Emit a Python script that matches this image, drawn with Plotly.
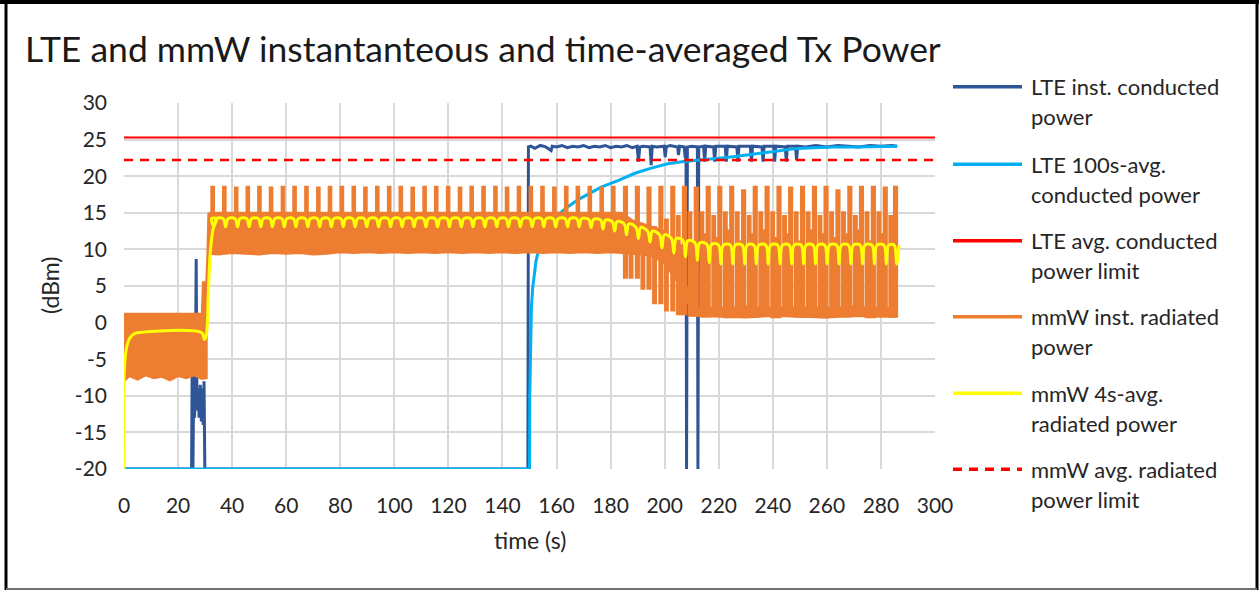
import plotly.graph_objects as go

# ---------------- data ----------------
# LTE instantaneous conducted power (dBm)
lte_inst_t = [0, 25.0, 25.2, 25.5, 25.8, 26.1, 26.4, 26.7, 27.0, 27.4, 27.8, 28.2, 28.6, 29.0, 29.3,
              29.6, 29.9, 30.2, 149.4, 149.6, 150.5, 152, 154, 156, 158, 158.4, 160, 162, 164, 166,
              168, 170, 172, 174, 176, 178, 180, 182, 184, 186, 188, 189.8, 190.3, 190.8, 192, 194.6,
              195.0, 195.4, 197, 199.8, 200.2, 200.6, 202, 204.8, 205.1, 205.5, 207.2, 207.6, 207.9,
              208.1, 208.4, 210, 212.1, 212.3, 212.6, 214.4, 214.8, 215.2, 218.1, 218.5, 218.9,
              222.4, 222.8, 223.2, 226.7, 227.1, 227.5, 231.7, 232.1, 232.5, 236.0, 236.4, 236.8,
              240.3, 240.7, 241.1, 244.6, 245.0, 245.4, 248.4, 248.8, 249.2, 252, 256, 260, 264,
              268, 272, 276, 280, 284, 286]
lte_inst_p = [-20, -20, -7, -20, -7, -13, -9, 8.7, -12, -9, -13, -8.5, -13.5, -9, -14,
              -8, -20, -20, -20, 24.0, 24.1, 23.8, 24.2, 24.0, 23.5, 24.1, 24.0, 24.2, 23.9, 24.1,
              24.0, 24.2, 23.9, 24.1, 24.0, 24.2, 23.9, 24.1, 24.0, 24.2, 23.9, 24.1, 22.0, 24.0, 24.1, 24.0,
              21.5, 24.1, 24.0, 24.1, 22.6, 24.0, 24.2, 24.0, 22.9, 24.1, 24.0, 22.5, 24.0,
              -20, 24.0, 24.1, 24.0, -20, 24.0, 24.1, 22.0, 24.1, 24.0, 22.0, 24.1,
              24.1, 22.0, 24.1, 24.0, 22.0, 24.1, 24.1, 22.0, 24.1, 24.0, 22.0, 24.1,
              24.1, 22.0, 24.1, 24.0, 22.0, 24.1, 24.1, 22.2, 24.1, 24.0, 24.2, 24.0, 24.2,
              24.1, 24.0, 24.2, 24.1, 24.2, 24.1]

# LTE 100 s averaged conducted power (dBm)
lte_avg_t = [0, 150.0, 150.1, 150.3, 150.7, 151.2, 152.4, 154.2, 156.9, 160, 164.1, 168, 174, 176.5,
             182.7, 189, 195, 201.2, 207, 213.6, 221, 226, 232, 238.3, 244, 249.4, 255, 262, 270,
             278, 286]
lte_avg_p = [-20, -20, -10, -3, 2, 4.8, 8.4, 11.2, 13.0, 14.6, 15.8, 16.8, 18.0, 18.5,
             19.4, 20.4, 21.1, 21.7, 22.0, 22.2, 22.5, 22.7, 23.0, 23.3, 23.6, 23.8, 23.9, 24.0, 24.0,
             24.1, 24.1]

# limits (dBm)
lte_limit = 25.3
mmw_limit = 22.2
limit_t = [0, 300]

# mmW instantaneous radiated power: densely sampled band (envelopes)
band_a_t = [0, 2, 5, 8, 11, 14, 17, 20, 23, 26, 28.8, 29.2, 30.6]
band_a_hi = [1.2, 1.2, 1.1, 1.2, 1.2, 1.1, 1.2, 1.2, 1.2, 1.1, 1.2, 5.5, 5.5]
band_a_lo = [-8.0, -7.3, -7.8, -7.2, -7.6, -7.4, -7.9, -7.3, -7.6, -7.2, -7.7, -7.6, -7.6]

band_b_t = [31.4, 35, 40, 45, 50, 55, 60, 65, 70, 75, 80, 85, 90, 95, 100, 105, 110, 115, 120,
            125, 130, 135, 140, 145, 150, 155, 160, 165, 170, 175, 180, 184, 188, 192, 196, 200,
            204, 208, 212, 220, 230, 240, 250, 260, 270, 280, 285.5]
band_b_hi = [15.0, 15.0, 15.0, 15.0, 15.0, 15.0, 15.0, 15.0, 15.0, 15.0, 15.0, 15.0, 15.0, 15.0,
             15.0, 15.0, 15.0, 15.0, 15.0, 15.0, 15.0, 15.0, 15.0, 15.0, 15.0, 15.0, 15.0, 15.0,
             15.0, 15.0, 15.0, 15.0, 14.0, 13.5, 13.0, 12.5, 10.0, 5.0, 2.0, 2.0, 2.2, 2.0, 2.1,
             2.0, 2.2, 2.0, 2.0]
band_b_lo = [9.4, 9.3, 9.5, 9.4, 9.3, 9.5, 9.4, 9.5, 9.3, 9.4, 9.6, 9.5, 9.6, 9.5, 9.6, 9.5,
             9.6, 9.5, 9.6, 9.5, 9.6, 9.5, 9.6, 9.5, 9.6, 9.5, 9.6, 9.5, 9.6, 9.5, 9.6, 9.4,
             9.4, 9.3, 9.0, 8.0, 6.0, 3.0, 0.9, 0.8, 0.7, 0.9, 0.8, 0.7, 0.9, 0.8, 0.8]

# mmW instantaneous radiated power: burst peaks (time, peak, floor, duration)
burst_t = [32.5, 36.8, 41.2, 45.5, 49.8, 54.1, 58.5, 62.8, 67.2, 71.6, 75.9, 80.3, 84.7, 89.0,
           93.4, 97.8, 102.1, 106.5, 110.9, 115.2, 119.6, 124.0, 128.3, 132.7, 137.1, 141.4,
           145.8, 150.2, 154.5, 158.9, 163.3, 167.6, 172.0, 176.4, 180.7, 185.1, 189.5, 193.8,
           198.2, 202.6, 206.9, 211.3, 215.7, 220.0, 224.4, 228.8, 233.1, 237.5, 241.9, 246.2,
           250.6, 255.0, 259.3, 263.7, 268.1, 272.4, 276.8, 281.2, 285.0]
burst_peak = [18.5, 18.5, 18.4, 18.5, 18.5, 18.4, 18.5, 18.5, 18.5, 18.4, 18.5, 18.5,
              18.5, 18.4, 18.5, 18.5, 18.5, 18.4, 18.5, 18.5, 18.5, 18.4, 18.5, 18.5, 18.5, 18.4,
              18.5, 18.5, 18.5, 18.4, 18.5, 18.5, 18.5, 18.4, 18.5, 18.5, 18.5, 18.4, 18.5, 18.5,
              18.5, 18.4, 18.5, 18.5, 18.5, 18.0, 18.5, 18.5, 18.5, 18.4, 18.5, 18.5, 18.5, 18.0,
              18.5, 18.5, 18.5, 18.4, 18.5]
burst_floor = [14, 14, 14, 14, 14, 14, 14, 14, 14, 14, 14, 14, 14, 14, 14, 14, 14, 14,
               14, 14, 14, 14, 14, 14, 14, 14, 14, 14, 14, 14, 14, 14, 14, 14, 14, 6.0, 6.0, 4.5,
               2.5, 1.5, 1.0, 0.8, 0.7, 0.9, 0.6, 0.8, 0.7, 0.9, 0.6, 0.8, 0.7, 0.9, 0.6, 0.8, 0.7,
               0.9, 0.6, 0.8, 0.7]
burst_dur = [0.6] * 35 + [0.8] * 24
# secondary bursts after the power back-off (time, peak, floor)
burst2_t = [187.2, 191.6, 195.9, 200.3, 204.7, 209.0, 213.4, 217.8, 222.1, 226.5, 230.9, 235.2,
            239.6, 244.0, 248.3, 252.7, 257.1, 261.4, 265.8, 270.2, 274.5, 278.9, 283.3]
burst2_peak = [12.0, 12.5, 13.0, 14.0, 14.5, 15.0, 15.0, 14.5, 15.0, 15.0, 14.5, 15.0,
               15.0, 14.5, 15.0, 15.0, 14.5, 15.0, 15.0, 14.5, 15.0, 15.0, 14.5]
burst2_floor = [6.0, 4.5, 2.5, 1.5, 1.0, 0.8, 0.7, 0.9, 0.6, 0.8, 0.7, 0.9, 0.6, 0.8, 0.7,
                0.9, 0.6, 0.8, 0.7, 0.9, 0.6, 0.8, 0.7]
burst2_dur = [0.7] * 23
# short intermediate bursts in the backed-off region
burst3_t = [205.9, 210.3, 214.6, 219.0, 223.4, 227.7, 232.1, 236.5, 240.8, 245.2, 249.6,
            253.9, 258.3, 262.7, 267.0, 271.4, 275.8, 280.1, 284.2]
burst3_peak = [10.5, 11.0, 12.0, 11.5, 12.5, 11.0, 12.0, 12.5, 11.5, 12.0, 11.0, 12.5,
               12.0, 11.5, 12.0, 12.5, 11.0, 12.0, 11.5]
burst3_floor = [1.0, 0.8, 0.7, 0.9, 0.6, 0.8, 0.7, 0.9, 0.6, 0.8, 0.7, 0.9, 0.6, 0.8, 0.7,
                0.9, 0.6, 0.8, 0.7]
burst3_dur = [0.3] * 19
transition_t = [30.6, 31.0, 31.4]
transition_p = [5.5, 9.0, 15.0]

# mmW 4 s averaged radiated power
yel_lead_t = [0, 0, 0.4, 1.0, 2.0, 3.5, 5.0, 28.8, 29.7, 30.4, 31.2, 32.0, 33.1, 34.3]
yel_lead_p = [-20, -7.6, -5.0, -3.3, -2.2, -1.6, -1.4, -1.4, -2.3, -1.8, 4.0, 10.0, 13.0, 14.2]
# per-burst level of the 4 s average (top between bursts, dip at each burst)
yel_top = [14.2, 14.2, 14.2, 14.2, 14.2, 14.2, 14.2, 14.2, 14.2, 14.2, 14.2, 14.2,
           14.2, 14.2, 14.2, 14.2, 14.2, 14.2, 14.2, 14.2, 14.2, 14.2, 14.2, 14.2, 14.2, 14.2,
           14.2, 14.2, 14.2, 14.2, 14.2, 14.2, 14.1, 14.0, 13.8, 13.5, 13.0, 12.5, 12.0, 11.5,
           11.2, 10.9, 10.7, 10.6, 10.6, 10.6, 10.6, 10.6, 10.6, 10.6, 10.6, 10.6, 10.6, 10.6,
           10.6, 10.6, 10.6, 10.6, 10.6]
yel_dip = [13.1, 13.1, 13.1, 13.1, 13.1, 13.1, 13.1, 13.1, 13.1, 13.1, 13.1, 13.1,
           13.1, 13.1, 13.1, 13.1, 13.1, 13.1, 13.1, 13.1, 13.1, 13.1, 13.1, 13.1, 13.1, 13.1,
           13.1, 13.1, 13.1, 13.1, 13.1, 13.1, 13.0, 12.8, 12.5, 12.0, 11.5, 11.0, 10.2, 9.5,
           9.0, 8.5, 8.2, 8.0, 8.0, 8.0, 8.0, 8.0, 8.0, 8.0, 8.0, 8.0, 8.0, 8.0, 8.0, 8.0, 8.0,
           8.0, 8.0]

# axis ticks
x_ticks = list(range(0, 301, 20))
y_ticks = list(range(-20, 31, 5))
y_tick_text = [str(v) for v in y_ticks]

# ---------------- colours / layout geometry ----------------
C_LTE = "#2F5597"
C_LTE_AVG = "#00B0F0"
C_RED = "#FF0000"
C_MMW = "#ED7D31"
C_MMW_AVG = "#FFFF00"
GRID = "#D9D9D9"
TXT = "#262626"
FONT = "Lato"

W, H = 1259, 590
PX_L, PX_R, PX_T, PX_B = 124, 935, 103, 469


def px_x(p):
    return (p - PX_L) / (PX_R - PX_L)


def px_y(p):
    return (PX_B - p) / (PX_B - PX_T)


DIP_W = 0.9

fig = go.Figure()

# LTE instantaneous
fig.add_trace(go.Scatter(x=lte_inst_t, y=lte_inst_p, mode="lines",
                         line=dict(color=C_LTE, width=3), showlegend=False))
# LTE 100 s average
fig.add_trace(go.Scatter(x=lte_avg_t, y=lte_avg_p, mode="lines",
                         line=dict(color=C_LTE_AVG, width=3), showlegend=False))
# LTE limit
fig.add_trace(go.Scatter(x=limit_t, y=[lte_limit] * 2, mode="lines",
                         line=dict(color=C_RED, width=2), showlegend=False))

# mmW instantaneous: dense band polygons
poly_x = band_a_t + band_a_t[::-1] + [None] + band_b_t + band_b_t[::-1]
poly_y = band_a_hi + band_a_lo[::-1] + [None] + band_b_hi + band_b_lo[::-1]
fig.add_trace(go.Scatter(x=poly_x, y=poly_y, mode="lines", fill="toself", fillcolor=C_MMW,
                         line=dict(color=C_MMW, width=2), showlegend=False))
# mmW instantaneous: bursts
bx, by = list(transition_t) + [None], list(transition_p) + [None]
bursts = (list(zip(burst_t, burst_peak, burst_floor, burst_dur))
          + list(zip(burst2_t, burst2_peak, burst2_floor, burst2_dur))
          + list(zip(burst3_t, burst3_peak, burst3_floor, burst3_dur)))
for t, pk, fl, d in bursts:
    bx += [t, t, t + d, t + d, None]
    by += [fl, pk, pk, fl, None]
fig.add_trace(go.Scatter(x=bx, y=by, mode="lines", connectgaps=False,
                         line=dict(color=C_MMW, width=3), showlegend=False))

# mmW 4 s average
yx, yy = list(yel_lead_t), list(yel_lead_p)
for t, top, dip in zip(burst_t, yel_top, yel_dip):
    c = t + 0.8
    yx += [c - DIP_W, c, c + DIP_W]
    yy += [top, dip, top]
fig.add_trace(go.Scatter(x=yx, y=yy, mode="lines", line=dict(color=C_MMW_AVG, width=3),
                         line_shape="spline", showlegend=False))
# mmW limit
fig.add_trace(go.Scatter(x=limit_t, y=[mmw_limit] * 2, mode="lines",
                         line=dict(color=C_RED, width=2.5, dash="9px,7px"), showlegend=False))

# ---------------- hand-placed legend ----------------
legend_items = [
    ("LTE inst. conducted", "power", C_LTE, "solid", 86.7),
    ("LTE 100s-avg.", "conducted power", C_LTE_AVG, "solid", 164.3),
    ("LTE avg. conducted", "power limit", C_RED, "solid", 240.7),
    ("mmW inst. radiated", "power", C_MMW, "solid", 316.7),
    ("mmW 4s-avg.", "radiated power", C_MMW_AVG, "solid", 393.3),
    ("mmW avg. radiated", "power limit", C_RED, "9px,7px", 469.3),
]
shapes = []
annotations = []
for l1, l2, col, dash, ypx in legend_items:
    shapes.append(dict(type="line", xref="paper", yref="paper",
                       x0=px_x(953), x1=px_x(1022), y0=px_y(ypx), y1=px_y(ypx),
                       line=dict(color=col, width=3.5, dash=dash)))
    for k, txt in enumerate((l1, l2)):
        annotations.append(dict(text=txt, xref="paper", yref="paper", x=px_x(1029),
                                y=px_y(ypx + 30 * k), xanchor="left", yanchor="middle",
                                showarrow=False, font=dict(family=FONT, size=22, color=TXT)))

# outer frame
shapes += [
    dict(type="line", xref="paper", yref="paper", x0=px_x(0), x1=px_x(W), y0=px_y(2), y1=px_y(2),
         line=dict(color="black", width=4)),
    dict(type="line", xref="paper", yref="paper", x0=px_x(6), x1=px_x(6), y0=px_y(0), y1=px_y(H),
         line=dict(color="black", width=3)),
    dict(type="line", xref="paper", yref="paper", x0=px_x(1257), x1=px_x(1257), y0=px_y(0), y1=px_y(H),
         line=dict(color="black", width=3)),
    dict(type="line", xref="paper", yref="paper", x0=px_x(6), x1=px_x(1257), y0=px_y(589), y1=px_y(589),
         line=dict(color="#707070", width=2)),
]

annotations.append(dict(text="(dBm)", xref="paper", yref="paper", x=px_x(50), y=px_y(286),
                        xanchor="center", yanchor="middle", textangle=-90, showarrow=False,
                        font=dict(family=FONT, size=23, color=TXT)))
annotations.append(dict(text="time (s)", xref="paper", yref="paper", x=px_x(530), y=px_y(540),
                        xanchor="center", yanchor="middle", showarrow=False,
                        font=dict(family=FONT, size=23, color=TXT)))

fig.update_layout(
    width=W, height=H,
    margin=dict(l=PX_L, r=W - PX_R, t=PX_T, b=H - PX_B),
    paper_bgcolor="white", plot_bgcolor="white",
    title=dict(text="LTE and mmW instantanteous and time-averaged Tx Power",
               xref="container", yref="container", x=25 / W, y=1 - 50 / H,
               xanchor="left", yanchor="middle",
               font=dict(family=FONT, size=35.5, color="#1a1a1a")),
    xaxis=dict(range=[0, 300], tickvals=x_ticks, showgrid=True, gridcolor=GRID, gridwidth=2,
               zeroline=False, showline=False, ticks="", ticklabelstandoff=22,
               tickfont=dict(family=FONT, size=21, color=TXT)),
    yaxis=dict(range=[-20, 30], tickvals=y_ticks, ticktext=y_tick_text, showgrid=True,
               gridcolor=GRID, gridwidth=2,
               zeroline=False, showline=False, ticks="", ticklabelstandoff=16,
               tickfont=dict(family=FONT, size=21, color=TXT)),
    shapes=shapes, annotations=annotations,
    showlegend=False,
)

fig.write_html("out.html")
